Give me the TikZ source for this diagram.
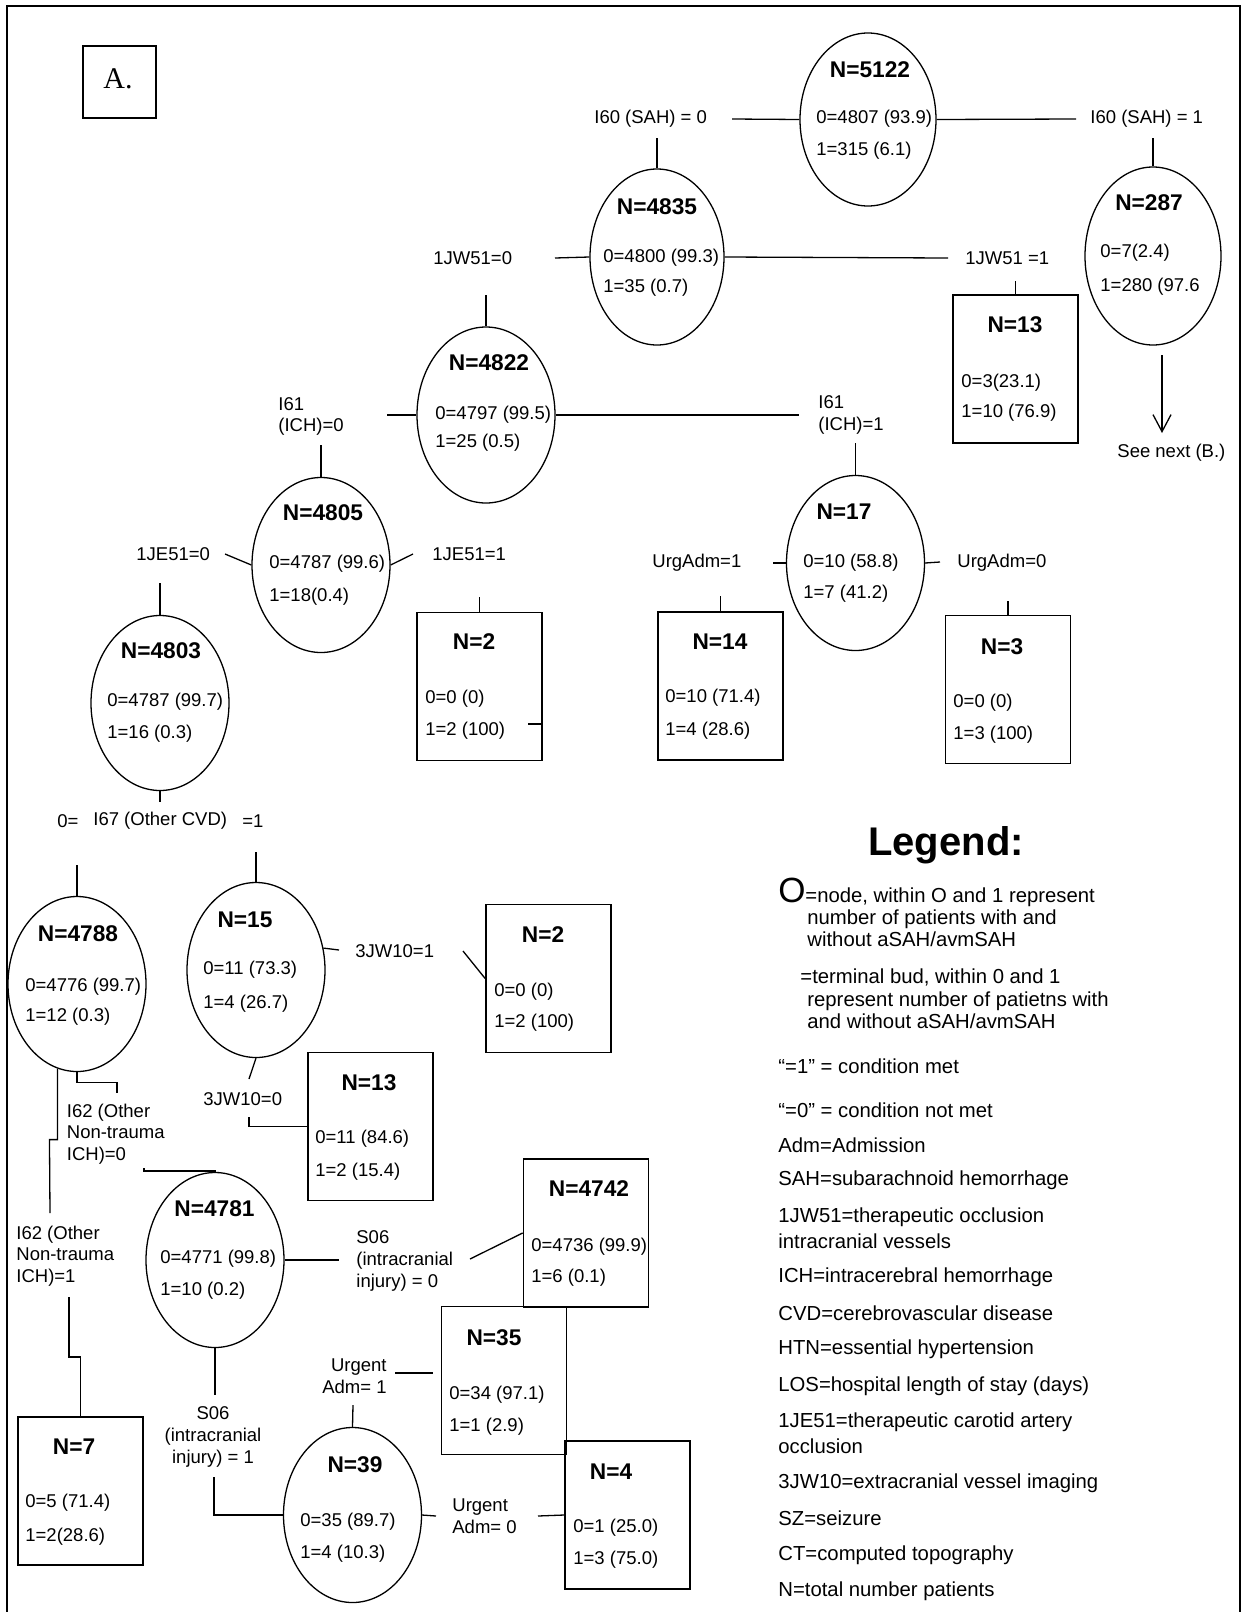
\documentclass[tikz,border=0pt]{standalone}
\usepackage{fontspec}
\setmainfont{Liberation Sans}
\newfontfamily\romanfont{Liberation Serif}
\usetikzlibrary{shapes.geometric,arrows.meta}
\begin{document}
\begin{tikzpicture}[x=0.5pt,y=-0.5pt,
  ell/.style={draw, ellipse, line width=0.65pt, inner sep=0pt, minimum width=69pt, minimum height=87.5pt},
  bud/.style={draw, rectangle, line width=0.85pt, inner sep=0pt, minimum width=62.5pt, minimum height=74pt},
  link/.style={line width=0.65pt},
  num/.style={anchor=west, inner sep=0pt, font=\fontsize{9.25}{11}\selectfont},
  ntot/.style={inner sep=0pt, font=\fontsize{11.35}{13}\selectfont\bfseries},
  cond/.style={anchor=west, inner sep=0pt, align=left, font=\fontsize{9.25}{10.8}\selectfont},
  leg/.style={anchor=west, inner sep=0pt, font=\fontsize{10.15}{12}\selectfont},
]
\useasboundingbox (0,0) rectangle (1246,1612);

% outer frame
\draw[line width=1.2pt] (7,1612) -- (7,6) -- (1240,6) -- (1240,1612);

% panel tag
\node[draw, line width=0.85pt, minimum width=36.5pt, minimum height=36pt, inner sep=0pt] (tagbox) at (119.5,82) {};
\node[inner sep=0pt, font=\romanfont\fontsize{15}{16}\selectfont] (tag) at (118,79) {A.};

% ---------------- internal nodes (ellipses) ----------------
\node[ell, minimum width=68pt, minimum height=86.5pt] (e5122) at (868,119.5) {};
\node[ntot] (t5122) at (870,70) {N=5122};
\node[num] (a5122) at (816,119) {0=4807 (93.9)};
\node[num] (b5122) at (816,151) {1=315 (6.1)};

\node[ell, minimum width=67pt, minimum height=88pt] (e4835) at (657,257) {};
\node[ntot] (t4835) at (657,207) {N=4835};
\node[num] (a4835) at (603,258) {0=4800 (99.3)};
\node[num] (b4835) at (603,288) {1=35 (0.7)};

\node[ell, minimum width=68pt, minimum height=89pt] (e287) at (1153,256) {};
\node[ntot] (t287) at (1149,203) {N=287};
\node[num] (a287) at (1100,253) {0=7(2.4)};
\node[num] (b287) at (1100,287) {1=280 (97.6};

\node[ell, minimum height=88pt] (e4822) at (486,415) {};
\node[ntot] (t4822) at (489,363) {N=4822};
\node[num] (a4822) at (435,415) {0=4797 (99.5)};
\node[num] (b4822) at (435,443) {1=25 (0.5)};

\node[ell] (e4805) at (321,565) {};
\node[ntot] (t4805) at (323,513) {N=4805};
\node[num] (a4805) at (269,564) {0=4787 (99.6)};
\node[num] (b4805) at (269,597) {1=18(0.4)};

\node[ell] (e17) at (855.5,563) {};
\node[ntot] (t17) at (844,512) {N=17};
\node[num] (a17) at (803,563) {0=10 (58.8)};
\node[num] (b17) at (803,594) {1=7 (41.2)};

\node[ell] (e4803) at (160,703) {};
\node[ntot] (t4803) at (161,651) {N=4803};
\node[num] (a4803) at (107,702) {0=4787 (99.7)};
\node[num] (b4803) at (107,734) {1=16 (0.3)};

\node[ell] (e4788) at (77,984) {};
\node[ntot] (t4788) at (78,934) {N=4788};
\node[num] (a4788) at (25,987) {0=4776 (99.7)};
\node[num] (b4788) at (25,1017) {1=12 (0.3)};

\node[ell] (e15) at (256,970) {};
\node[ntot] (t15) at (245,920) {N=15};
\node[num] (a15) at (203,970) {0=11 (73.3)};
\node[num] (b15) at (203,1004) {1=4 (26.7)};

\node[ell] (e4781) at (215,1260) {};
\node[ntot] (t4781) at (214.5,1209) {N=4781};
\node[num] (a4781) at (160,1259) {0=4771 (99.8)};
\node[num] (b4781) at (160,1291) {1=10 (0.2)};

\node[ell] (e39) at (352.5,1515) {};
\node[ntot] (t39) at (355,1465) {N=39};
\node[num] (a39) at (300,1522) {0=35 (89.7)};
\node[num] (b39) at (300,1554) {1=4 (10.3)};

% ---------------- terminal buds (boxes) ----------------
\node[bud] (b13a) at (1015.5,369) {};
\node[ntot] (t13a) at (1015,325) {N=13};
\node[num] (a13a) at (961,383) {0=3(23.1)};
\node[num] (c13a) at (961,413) {1=10 (76.9)};

\node[bud] (b2a) at (479.5,686.5) {};
\node[ntot] (t2a) at (474,642) {N=2};
\node[num] (a2a) at (425,699) {0=0 (0)};
\node[num] (c2a) at (425,731) {1=2 (100)};

\node[bud] (b14) at (720.5,686) {};
\node[ntot] (t14) at (720,642) {N=14};
\node[num] (a14) at (665,698) {0=10 (71.4)};
\node[num] (c14) at (665,731) {1=4 (28.6)};

\node[bud] (b3) at (1008,689.5) {};
\node[ntot] (t3) at (1002,647) {N=3};
\node[num] (a3) at (953,703) {0=0 (0)};
\node[num] (c3) at (953,735) {1=3 (100)};

\node[bud] (b2b) at (548.5,978.5) {};
\node[ntot] (t2b) at (543,935) {N=2};
\node[num] (a2b) at (494,992) {0=0 (0)};
\node[num] (c2b) at (494,1023) {1=2 (100)};

\node[bud] (b13b) at (370.5,1126.5) {};
\node[ntot] (t13b) at (369,1083) {N=13};
\node[num] (a13b) at (315,1139) {0=11 (84.6)};
\node[num] (c13b) at (315,1172) {1=2 (15.4)};

\node[bud] (b4742) at (586,1233) {};
\node[ntot] (t4742) at (589,1189) {N=4742};
\node[num] (a4742) at (531,1247) {0=4736 (99.9)};
\node[num] (c4742) at (531,1278) {1=6 (0.1)};

\node[bud] (b35) at (504,1380.5) {};
\node[ntot] (t35) at (494,1338) {N=35};
\node[num] (a35) at (449,1395) {0=34 (97.1)};
\node[num] (c35) at (449,1427) {1=1 (2.9)};

\node[bud] (b4) at (627.5,1515) {};
\node[ntot] (t4) at (611,1472) {N=4};
\node[num] (a4) at (573,1528) {0=1 (25.0)};
\node[num] (c4) at (573,1560) {1=3 (75.0)};

\node[bud] (b7) at (80.5,1491) {};
\node[ntot] (t7) at (74,1447) {N=7};
\node[num] (a7) at (25,1503) {0=5 (71.4)};
\node[num] (c7) at (25,1537) {1=2(28.6)};

% ---------------- split conditions ----------------
\node[cond] (q1) at (594,119) {I60 (SAH) = 0};
\node[cond] (q2) at (1090,119) {I60 (SAH) = 1};
\node[cond] (q3) at (433,258) {1JW51=0};
\node[cond] (q4) at (965,258) {1JW51 =1};
\node[cond] (q5) at (278,416.5) {I61\\(ICH)=0};
\node[cond] (q6) at (818,415) {I61\\(ICH)=1};
\node[cond] (q7) at (136,554) {1JE51=0};
\node[cond] (q8) at (432,554) {1JE51=1};
\node[cond] (q9) at (652,563) {UrgAdm=1};
\node[cond] (q10) at (957,563) {UrgAdm=0};
\node[cond] (q11a) at (57,821) {0=};
\node[cond] (q11) at (93,821) {I67 (Other CVD)};
\node[cond] (q11b) at (242,821) {=1};
\node[cond] (q12) at (355,951) {3JW10=1};
\node[cond] (q13) at (203,1099) {3JW10=0};
\node[cond] (q14) at (66.5,1134) {I62 (Other\\Non-trauma\\ICH)=0};
\node[cond] (q15) at (16,1256) {I62 (Other\\Non-trauma\\ICH)=1};
\node[cond] (q16) at (356,1261) {S06\\(intracranial\\injury) = 0};
\node[cond, anchor=east, align=right] (q17) at (387,1376) {Urgent\\Adm= 1};
\node[cond, anchor=center, align=center] (q18) at (213,1437) {S06\\(intracranial\\injury) = 1};
\node[cond] (q19) at (452,1516) {Urgent\\Adm= 0};
\node[cond] (seenext) at (1117,453) {See next (B.)};

% ---------------- free ends of connectors ----------------
\coordinate (s1) at (732,119);
\coordinate (s2) at (1076,119);
\coordinate (s3) at (657,138);
\coordinate (s4) at (1153,138);
\coordinate (s5) at (555,258);
\coordinate (s6) at (948,258);
\coordinate (s7) at (1015.5,281);
\coordinate (a1) at (1162,355);
\coordinate (a2) at (1162,433);
\coordinate (s9) at (486,295);
\coordinate (s10) at (799,415);
\coordinate (s11) at (387,415);
\coordinate (s12) at (855.5,443);
\coordinate (s13) at (321,445);
\coordinate (s14) at (225,554);
\coordinate (s15) at (413,554);
\coordinate (s16) at (479.5,597);
\coordinate (tick) at (528,724);
\coordinate (s17) at (773,563);
\coordinate (s18) at (940,562);
\coordinate (s19) at (720.5,596);
\coordinate (s20) at (1008,601);
\coordinate (s21) at (160,583);
\coordinate (s22) at (160,802);
\coordinate (s23) at (77,865);
\coordinate (s24) at (256,852);
\coordinate (s25) at (339,950);
\coordinate (s26) at (463,951);
\coordinate (s27) at (249,1079);
\coordinate (s28) at (249,1117);
\coordinate (s29) at (117,1093);
\coordinate (s30) at (50,1213);
\coordinate (s31) at (144,1168);
\coordinate (s32) at (339,1260);
\coordinate (s33) at (470,1259);
\coordinate (s34) at (69,1297);
\coordinate (s35) at (215,1395);
\coordinate (s36) at (214,1477);
\coordinate (s37) at (395,1373);
\coordinate (s38) at (433,1373);
\coordinate (s39) at (353,1405);
\coordinate (s40) at (436,1516);
\coordinate (s41) at (538,1516);

% ---------------- connectors ----------------
\draw[link] (s1) -- (e5122.west);
\draw[link] (e5122.east) -- (s2);
\draw[link] (s3) -- (e4835.north);
\draw[link] (s4) -- (e287.north);
\draw[link] (s5) -- (e4835.west);
\draw[link] (e4835.east) -- (s6);
\draw[link] (s7) -- (b13a.north);
\draw[link, -{Straight Barb[length=8.5pt, width=9pt]}] (a1) -- (a2);
\draw[link] (s9) -- (e4822.north);
\draw[link] (e4822.east) -- (s10);
\draw[link] (s11) -- (e4822.west);
\draw[link] (s12) -- (e17.north);
\draw[link] (s13) -- (e4805.north);
\draw[link] (s14) -- (e4805.west);
\draw[link] (e4805.east) -- (s15);
\draw[link] (s16) -- (b2a.north);
\draw[link] (tick) -- (tick -| b2a.east);
\draw[link] (s17) -- (e17.west);
\draw[link] (e17.east) -- (s18);
\draw[link] (s19) -- (b14.north);
\draw[link] (s20) -- (b3.north);
\draw[link] (s21) -- (e4803.north);
\draw[link] (e4803.south) -- (s22);
\draw[link] (s23) -- (e4788.north);
\draw[link] (s24) -- (e15.north);
\draw[link] (e15.18) -- (s25);
\draw[link] (s26) -- (b2b.west);
\draw[link] (e15.south) -- (s27);
\draw[link] (s28) |- (b13b.west);
\draw[link] (e4788.south) -- ++(0,10) -| (s29);
\draw[link] (e4788.257) -- ++(0,71) -- ++(-8,0) -- (s30);
\draw[link] (s31) -- ++(0,3) -| (e4781.north);
\draw[link] (e4781.east) -- (s32);
\draw[link] (s33) -- (b4742.west);
\draw[link] (s34) -- ++(0,60) -| (b7.north);
\draw[link] (e4781.south) -- (s35);
\draw[link] (s36) |- (e39.west);
\draw[link] (s37) -- (s38);
\draw[link] (s39) -- (e39.north);
\draw[link] (e39.east) -- (s40);
\draw[link] (s41) -- (b4.west);

% ---------------- legend ----------------
\node[inner sep=0pt, font=\fontsize{20}{22}\selectfont\bfseries] (legtitle) at (946,845) {Legend:};
\node[anchor=base west, inner sep=0pt, font=\fontsize{17.5}{18}\selectfont] (legO) at (778,902) {O};
\node[leg, anchor=base west] (l1) at (805,902) {=node, within O and 1 represent};
\node[leg] (l2) at (807,919) {number of patients with and};
\node[leg] (l3) at (807,939) {without aSAH/avmSAH};
\node[leg] (l4) at (800,977) {=terminal bud, within 0 and 1};
\node[leg] (l5) at (807,1001) {represent number of patietns with};
\node[leg] (l6) at (807,1021) {and without aSAH/avmSAH};
\node[leg] (l7) at (778,1066) {“=1” = condition met};
\node[leg] (l8) at (778,1110) {“=0” = condition not met};
\node[leg] (l9) at (778,1145) {Adm=Admission};
\node[leg] (l10) at (778,1180) {SAH=subarachnoid hemorrhage};
\node[leg] (l11) at (778,1217) {1JW51=therapeutic occlusion};
\node[leg] (l12) at (778,1241) {intracranial vessels};
\node[leg] (l13) at (778,1277) {ICH=intracerebral hemorrhage};
\node[leg] (l14) at (778,1313) {CVD=cerebrovascular disease};
\node[leg] (l15) at (778,1349) {HTN=essential hypertension};
\node[leg] (l16) at (778,1386) {LOS=hospital length of stay (days)};
\node[leg] (l17) at (778,1422) {1JE51=therapeutic carotid artery};
\node[leg] (l18) at (778,1446) {occlusion};
\node[leg] (l19) at (778,1483) {3JW10=extracranial vessel imaging};
\node[leg] (l20) at (778,1518) {SZ=seizure};
\node[leg] (l21) at (778,1555) {CT=computed topography};
\node[leg] (l22) at (778,1591) {N=total number patients};
\end{tikzpicture}
\end{document}
